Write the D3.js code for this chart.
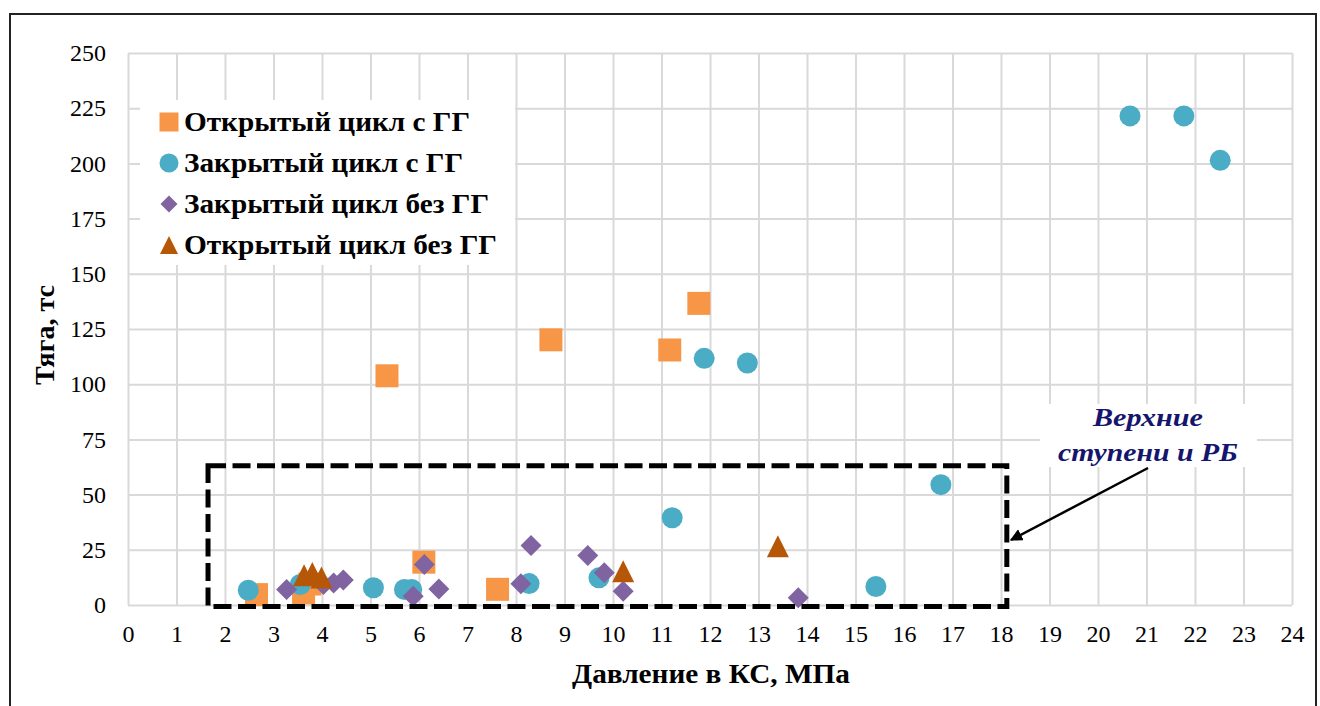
<!DOCTYPE html>
<html>
<head>
<meta charset="utf-8">
<script src="https://cdn.jsdelivr.net/npm/d3@7"></script>
<style>
  body { margin: 0; background: #fff; }
  svg, svg text { font-family: "Liberation Serif", "Times New Roman", serif !important; }
</style>
</head>
<body>
<div id="chart"></div>
<script>
// series: thrust (тс) vs chamber pressure (МПа)
var openGG_x = [2.65, 3.62, 3.75, 5.34, 6.10, 7.62, 8.72, 11.17, 11.77];
var openGG_y = [4.7, 5.5, 9.5, 103.8, 19.4, 7.1, 120.1, 115.5, 136.6];

var closedGG_x = [2.48, 3.55, 5.06, 5.70, 5.85, 8.27, 9.71, 11.22, 11.88, 12.77, 15.42, 16.76, 20.66, 21.77, 22.52];
var closedGG_y = [6.7, 9.3, 7.8, 7.0, 7.0, 9.7, 12.3, 39.5, 111.7, 109.6, 8.4, 54.5, 221.5, 221.5, 201.4];

var closedNoGG_x = [3.27, 4.03, 4.24, 4.44, 5.88, 6.11, 6.41, 8.10, 8.31, 9.48, 9.82, 10.21, 13.82];
var closedNoGG_y = [7.0, 9.3, 10.0, 11.3, 4.0, 18.3, 7.3, 9.6, 26.9, 22.4, 14.6, 6.2, 3.3];

var openNoGG_x = [3.63, 3.80, 3.99, 10.21, 13.40];
var openNoGG_y = [13.5, 14.5, 12.5, 15.3, 26.6];

var seriesNames = ["Открытый цикл с ГГ", "Закрытый цикл с ГГ", "Закрытый цикл без ГГ", "Открытый цикл без ГГ"];
var xTicks = d3.range(0, 25, 1);
var yTicks = d3.range(0, 251, 25);

var W = 1320, H = 706;
var margin = {top: 53, right: 28, bottom: 101, left: 128};
var width = W - margin.left - margin.right,
    height = H - margin.top - margin.bottom;
var serif = "'Liberation Serif', 'Times New Roman', serif";

var svg = d3.select("#chart").append("svg")
    .attr("width", W)
    .attr("height", H);

// outer frame
svg.append("rect")
    .attr("x", 10).attr("y", 14)
    .attr("width", 1306).attr("height", 720)
    .attr("fill", "none").attr("stroke", "#222").attr("stroke-width", 2);

var g = svg.append("g")
    .attr("transform", "translate(" + margin.left + "," + margin.top + ")");

var x = d3.scaleLinear().domain([0, 24]).range([0, width]);
var y = d3.scaleLinear().domain([0, 250]).range([height, 0]);

// grid
g.append("g")
    .attr("transform", "translate(0," + height + ")")
    .call(d3.axisBottom(x).tickValues(xTicks).tickSize(-height).tickFormat(""))
    .call(function(s) {
      s.select(".domain").remove();
      s.selectAll("line").attr("stroke", "#d9d9d9").attr("stroke-width", 2);
    });
g.append("g")
    .call(d3.axisLeft(y).tickValues(yTicks).tickSize(-width).tickFormat(""))
    .call(function(s) {
      s.select(".domain").remove();
      s.selectAll("line").attr("stroke", "#d9d9d9").attr("stroke-width", 2);
    });

// tick labels
g.append("g")
    .attr("transform", "translate(0," + height + ")")
    .call(d3.axisBottom(x).tickValues(xTicks).tickSize(0).tickPadding(20).tickFormat(d3.format("d")))
    .call(function(s) {
      s.attr("font-family", null);
      s.select(".domain").remove();
      s.selectAll("text").style("font-family", serif).style("font-size", "24px").attr("fill", "#000");
    });
g.append("g")
    .call(d3.axisLeft(y).tickValues(yTicks).tickSize(0).tickPadding(22).tickFormat(d3.format("d")))
    .call(function(s) {
      s.attr("font-family", null);
      s.select(".domain").remove();
      s.selectAll("text").style("font-family", serif).style("font-size", "24px").attr("fill", "#000");
    });

// axis titles
svg.append("text")
    .attr("x", 711).attr("y", 683)
    .attr("text-anchor", "middle")
    .attr("font-size", "28px").attr("font-weight", "bold")
    .attr("textLength", 278).attr("lengthAdjust", "spacingAndGlyphs")
    .text("Давление в КС, МПа");
svg.append("text")
    .attr("transform", "translate(54,335) rotate(-90)")
    .attr("text-anchor", "middle")
    .attr("font-size", "28px").attr("font-weight", "bold")
    .attr("textLength", 100).attr("lengthAdjust", "spacingAndGlyphs")
    .text("Тяга, тс");

// marker shapes
var colors = ["#F79646", "#4BACC6", "#8064A2", "#B65708"];
function shape(i, s) {
  if (i === 0) return "M" + (-s/2) + "," + (-s/2) + "h" + s + "v" + s + "h" + (-s) + "Z";
  if (i === 1) return d3.symbol(d3.symbolCircle, Math.PI * s * s / 4)();
  if (i === 2) return "M0," + (-s/2) + "L" + (s/2) + ",0L0," + (s/2) + "L" + (-s/2) + ",0Z";
  return "M0," + (-s/2) + "L" + (s/2) + "," + (s/2) + "L" + (-s/2) + "," + (s/2) + "Z";
}
var markerSize = [23, 21, 21, 22];

var seriesX = [openGG_x, closedGG_x, closedNoGG_x, openNoGG_x];
var seriesY = [openGG_y, closedGG_y, closedNoGG_y, openNoGG_y];

seriesX.forEach(function(xs, i) {
  var pts = xs.map(function(v, j) { return [v, seriesY[i][j]]; });
  g.append("g").selectAll("path")
    .data(pts)
    .enter()
    .append("path")
      .attr("transform", function(d) { return "translate(" + x(d[0]) + "," + y(d[1]) + ")"; })
      .attr("d", shape(i, markerSize[i]))
      .attr("fill", colors[i]);
});

// dashed box around upper stages
g.append("rect")
    .attr("x", x(1.65)).attr("y", y(63.1))
    .attr("width", x(18.12) - x(1.65))
    .attr("height", y(-0.7) - y(63.1))
    .attr("fill", "none").attr("stroke", "#000")
    .attr("stroke-width", 5).attr("stroke-dasharray", "18,6.5");

// annotation
svg.append("rect")
    .attr("x", 1040).attr("y", 404).attr("width", 217).attr("height", 63)
    .attr("fill", "#fff");
svg.append("text")
    .attr("x", 1148).attr("y", 426)
    .attr("text-anchor", "middle")
    .attr("font-size", "26px").attr("font-weight", "bold").attr("font-style", "italic")
    .attr("fill", "#15156e")
    .attr("textLength", 110).attr("lengthAdjust", "spacingAndGlyphs")
    .text("Верхние");
svg.append("text")
    .attr("x", 1148).attr("y", 461)
    .attr("text-anchor", "middle")
    .attr("font-size", "26px").attr("font-weight", "bold").attr("font-style", "italic")
    .attr("fill", "#15156e")
    .attr("textLength", 180).attr("lengthAdjust", "spacingAndGlyphs")
    .text("ступени и РБ");

svg.append("defs").append("marker")
    .attr("id", "arr")
    .attr("viewBox", "0 0 10 10")
    .attr("refX", 9).attr("refY", 5)
    .attr("markerWidth", 5).attr("markerHeight", 5)
    .attr("orient", "auto")
  .append("path")
    .attr("d", "M0,0L10,5L0,10Z")
    .attr("fill", "#000");
svg.append("line")
    .attr("x1", 1148).attr("y1", 468)
    .attr("x2", 1011).attr("y2", 540)
    .attr("stroke", "#000").attr("stroke-width", 2.5)
    .attr("marker-end", "url(#arr)");

// legend
var legend = svg.append("g");
legend.append("rect")
    .attr("x", 140).attr("y", 100).attr("width", 375).attr("height", 165)
    .attr("fill", "#fff");
var legendSize = [19, 19, 17, 18];
var legendWidth = [286, 279, 305, 313];
seriesNames.forEach(function(name, i) {
  var ly = 122 + i * 41;
  legend.append("path")
    .attr("transform", "translate(169," + ly + ")")
    .attr("d", shape(i, legendSize[i]))
    .attr("fill", colors[i]);
  legend.append("text")
    .attr("x", 184).attr("y", ly + 9)
    .attr("font-size", "27px").attr("font-weight", "bold")
    .attr("textLength", legendWidth[i]).attr("lengthAdjust", "spacingAndGlyphs")
    .text(name);
});
</script>
</body>
</html>
